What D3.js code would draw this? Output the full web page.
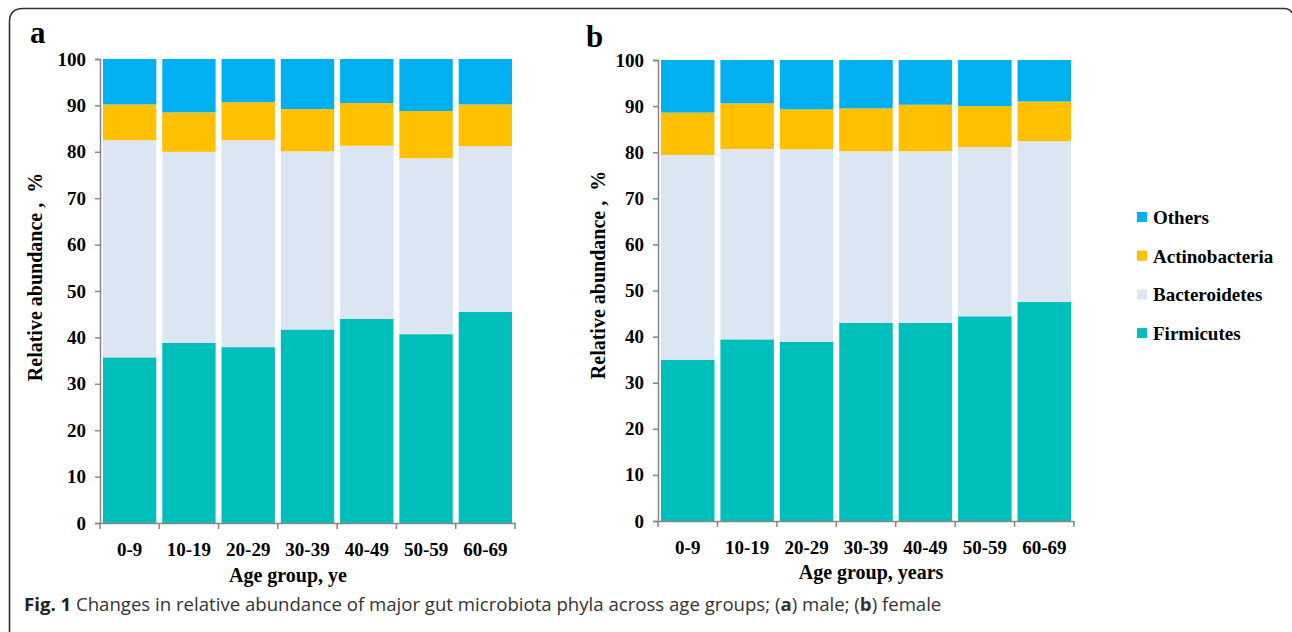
<!DOCTYPE html>
<html>
<head>
<meta charset="utf-8">
<script src="https://cdn.jsdelivr.net/npm/d3@7"></script>
<style>
  body { margin: 0; background: #fff; }
  svg { display: block; }
</style>
</head>
<body>
<div id="chart"></div>
<script>
// age groups (x categories)
var ageGroups = ["0-9", "10-19", "20-29", "30-39", "40-49", "50-59", "60-69"];
var phyla = ["Firmicutes", "Bacteroidetes", "Actinobacteria", "Others"];
var yTicks = [0, 10, 20, 30, 40, 50, 60, 70, 80, 90, 100];

// (a) male, % per age group
var maleFirmicutes     = [35.7, 38.8, 37.9, 41.7, 44.0, 40.7, 45.5];
var maleBacteroidetes  = [46.8, 41.2, 44.6, 38.4, 37.3, 37.9, 35.7];
var maleActinobacteria = [7.7, 8.5, 8.2, 9.1, 9.2, 10.2, 9.0];
var maleOthers         = [9.8, 11.5, 9.3, 10.8, 9.5, 11.2, 9.8];

// (b) female, % per age group
var femaleFirmicutes     = [35.0, 39.4, 38.9, 43.0, 43.0, 44.4, 47.5];
var femaleBacteroidetes  = [44.4, 41.3, 41.7, 37.2, 37.2, 36.7, 34.9];
var femaleActinobacteria = [9.2, 9.9, 8.7, 9.3, 10.1, 8.9, 8.6];
var femaleOthers         = [11.4, 9.4, 10.7, 10.5, 9.7, 10.0, 9.0];

var colors = {
  Firmicutes: "#00BFBA",
  Bacteroidetes: "#DCE6F2",
  Actinobacteria: "#FFC000",
  Others: "#00B0F0"
};

var W = 1292, H = 632;
var serif = "'Liberation Serif', 'Times New Roman', serif";

var svg = d3.select("#chart").append("svg")
  .attr("width", W)
  .attr("height", H);

// frame round the figure
svg.append("path")
  .attr("d", "M9.5,632 V22 Q9.5,8.5 23,8.5 H1284 Q1290,8.5 1292,13")
  .attr("fill", "none")
  .attr("stroke", "#333")
  .attr("stroke-width", 1.6);

function buildRows(f, b, a, o) {
  return ageGroups.map(function(g, i) {
    return { group: g, Firmicutes: f[i], Bacteroidetes: b[i], Actinobacteria: a[i], Others: o[i] };
  });
}

function drawPanel(opt) {
  var g = svg.append("g");

  var x = d3.scaleBand()
    .domain(ageGroups)
    .range([opt.left, opt.right])
    .paddingInner(0.1)
    .paddingOuter(0.05);

  var y = d3.scaleLinear()
    .domain([0, 100])
    .range([opt.bottom, opt.top]);

  var stacked = d3.stack().keys(phyla)(opt.rows);

  g.selectAll("g.layer")
    .data(stacked)
    .enter().append("g")
      .attr("class", "layer")
      .attr("fill", function(d) { return colors[d.key]; })
    .selectAll("rect")
    .data(function(d) { return d; })
    .enter().append("rect")
      .attr("x", function(d) { return x(d.data.group); })
      .attr("width", x.bandwidth())
      .attr("y", function(d) { return y(d[1]); })
      .attr("height", function(d) { return y(d[0]) - y(d[1]); });

  // y axis
  var yAxis = g.append("g")
    .attr("transform", "translate(" + opt.left + ",0)")
    .call(d3.axisLeft(y).tickValues(yTicks).tickSizeOuter(0).tickSize(5).tickPadding(9));
  yAxis.selectAll("line, path").attr("stroke", "#868686").attr("stroke-width", 1.5);
  yAxis.selectAll("text")
    .attr("fill", "#000")
    .style("font-family", serif)
    .style("font-weight", "bold")
    .style("font-size", "19px");

  // x axis: labels under bands, tick marks on band edges
  var xAxis = g.append("g")
    .attr("transform", "translate(0," + opt.bottom + ")")
    .call(d3.axisBottom(x).tickSize(0).tickSizeOuter(0).tickPadding(20));
  xAxis.select("path").attr("stroke", "#868686").attr("stroke-width", 1.5);
  xAxis.selectAll("text")
    .attr("fill", "#000")
    .style("font-family", serif)
    .style("font-weight", "bold")
    .style("font-size", "19px");

  var half = (x.step() - x.bandwidth()) / 2;
  var edges = ageGroups.map(function(d) { return x(d) - half; }).concat([opt.right]);
  xAxis.selectAll("line.edge")
    .data(edges)
    .enter().append("line")
      .attr("class", "edge")
      .attr("x1", function(d) { return d; })
      .attr("x2", function(d) { return d; })
      .attr("y1", 0)
      .attr("y2", 6)
      .attr("stroke", "#868686")
      .attr("stroke-width", 1.5);

  // axis titles
  g.append("text")
    .attr("x", opt.xTitleX)
    .attr("y", opt.xTitleY)
    .attr("text-anchor", "middle")
    .style("font-family", serif)
    .style("font-weight", "bold")
    .style("font-size", "20px")
    .text(opt.xTitle);

  g.append("text")
    .attr("transform", "translate(" + opt.yTitleX + "," + opt.yTitleY + ") rotate(-90)")
    .attr("text-anchor", "middle")
    .style("font-family", serif)
    .style("font-weight", "bold")
    .style("font-size", "20px")
    .style("white-space", "pre")
    .text("Relative abundance ,  %");

  // panel letter
  g.append("text")
    .attr("x", opt.letterX)
    .attr("y", opt.letterY)
    .style("font-family", serif)
    .style("font-weight", "bold")
    .style("font-size", "31px")
    .text(opt.letter);
}

drawPanel({
  rows: buildRows(maleFirmicutes, maleBacteroidetes, maleActinobacteria, maleOthers),
  left: 100, right: 515, top: 59, bottom: 523,
  xTitle: "Age group, ye", xTitleX: 288, xTitleY: 582,
  yTitleX: 42, yTitleY: 277,
  letter: "a", letterX: 30, letterY: 43
});

drawPanel({
  rows: buildRows(femaleFirmicutes, femaleBacteroidetes, femaleActinobacteria, femaleOthers),
  left: 658, right: 1074, top: 60, bottom: 521,
  xTitle: "Age group, years", xTitleX: 871, xTitleY: 579,
  yTitleX: 605, yTitleY: 275,
  letter: "b", letterX: 586, letterY: 47
});

// legend, top to bottom as in the stack
var legendKeys = phyla.slice().reverse();
var legend = svg.append("g").attr("transform", "translate(1137,212)");
var item = legend.selectAll("g")
  .data(legendKeys)
  .enter().append("g")
    .attr("transform", function(d, i) { return "translate(0," + (i * 38.7) + ")"; });
item.append("rect")
  .attr("width", 10)
  .attr("height", 10)
  .attr("fill", function(d) { return colors[d]; });
item.append("text")
  .attr("x", 16)
  .attr("y", 12)
  .style("font-family", serif)
  .style("font-weight", "bold")
  .style("font-size", "19px")
  .text(function(d) { return d; });

// caption
var caption = svg.append("text")
  .attr("x", 24)
  .attr("y", 611)
  .style("font-family", "'Open Sans', 'Noto Sans', sans-serif")
  .style("font-size", "18.6px")
  .attr("fill", "#333");
caption.append("tspan").style("font-weight", "bold").attr("fill", "#222").text("Fig. 1");
caption.append("tspan").text(" Changes in relative abundance of major gut microbiota phyla across age groups; (");
caption.append("tspan").style("font-weight", "bold").text("a");
caption.append("tspan").text(") male; (");
caption.append("tspan").style("font-weight", "bold").text("b");
caption.append("tspan").text(") female");
</script>
</body>
</html>
